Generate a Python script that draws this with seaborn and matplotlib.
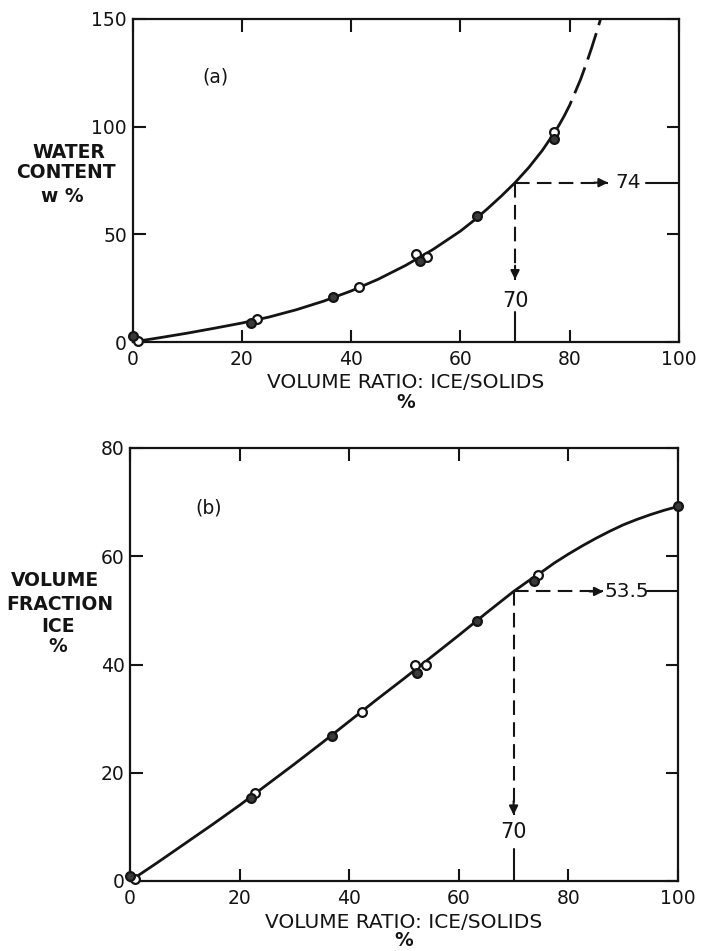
import matplotlib
matplotlib.use("Agg")
import matplotlib.pyplot as plt
import seaborn as sns

# (a) water content w % against volume ratio ice/solids %
ratio_open_a = [1, 22.8, 41.5, 51.9, 53.9, 77.1]
water_open_a = [0.5, 10.5, 25.7, 40.7, 39.3, 97.4]
ratio_fill_a = [0, 21.6, 36.7, 52.6, 63.1, 77.1]
water_fill_a = [3.0, 8.7, 20.8, 37.6, 58.5, 94.3]

curve_ratio_a = [0, 5, 10, 15, 20, 25, 30, 35, 40, 45, 50, 55, 60, 62.5, 65, 67.5,
                 70, 72.5, 75, 77, 78]
curve_water_a = [0, 2.0, 4.1, 6.4, 8.8, 11.6, 15.0, 19.0, 23.7, 29.2, 35.6, 43.0, 51.5, 56.5,
                 62.0, 67.8, 74.0, 81.0, 89.0, 96.5, 100.5]
dash_ratio_a = [78, 79, 80, 81, 82, 83, 84, 85, 86]
dash_water_a = [100.5, 105, 110, 116, 122, 129, 136.5, 144.5, 153]

# (b) volume fraction ice % against volume ratio ice/solids %
ratio_open_b = [1, 22.8, 42.3, 52.0, 54.1, 74.5]
ice_open_b = [0.3, 16.3, 31.3, 40.0, 39.9, 56.5]
ratio_fill_b = [0, 22.0, 36.9, 52.4, 63.3, 73.7, 100]
ice_fill_b = [1.0, 15.4, 26.8, 38.4, 48.0, 55.4, 69.3]

curve_ratio_b = [0, 5, 10, 15, 20, 25, 30, 35, 40, 45, 50, 55, 60, 65, 70, 72.5, 75,
                 77.5, 80, 82.5, 85, 87.5, 90, 92.5, 95, 97.5, 100]
curve_ice_b = [0, 3.4, 6.9, 10.4, 14.0, 17.8, 21.6, 25.5, 29.5, 33.5, 37.4, 41.4, 45.4, 49.5,
               53.5, 55.3, 57.0, 58.8, 60.4, 61.9, 63.3, 64.6, 65.8, 66.8, 67.7, 68.5, 69.2]

# read-off values
read_ratio = 70
read_water = 74
read_ice = 53.5

sns.set_style("ticks")
plt.rcParams["font.family"] = ["DejaVu Sans"]
ink = "#141414"
W, H = 703, 951

fig = plt.figure(figsize=(W / 100, H / 100), dpi=100)
ax1 = fig.add_axes([132.5 / W, 1 - 342 / H, 546.5 / W, 323 / H])
ax2 = fig.add_axes([130 / W, 1 - 881 / H, 548 / W, 433 / H])


def style_axes(ax, yticks, pct_y):
    ax.set_xlim(0, 100)
    ax.set_ylim(yticks[0], yticks[-1])
    ax.set_xticks([0, 20, 40, 60, 80, 100])
    ax.set_yticks(yticks)
    ax.tick_params(direction="in", length=9, width=1.5, color=ink,
                   top=True, right=True, labelsize=13.5, labelcolor=ink)
    ax.tick_params(axis="x", pad=6)
    ax.tick_params(axis="y", pad=4)
    for s in ax.spines.values():
        s.set_linewidth(1.6)
        s.set_color(ink)
    ax.set_xlabel("VOLUME RATIO: ICE/SOLIDS", fontsize=14.5, color=ink, labelpad=3)
    fig.text(ax.get_position().x0 + ax.get_position().width / 2, 1 - pct_y / H, "%",
             ha="center", va="center", fontsize=13.5, fontweight="bold", color=ink)


def points(ax, xo, yo, xf, yf):
    sns.scatterplot(x=xo, y=yo, ax=ax, marker="o", s=40, color="white",
                    edgecolor=ink, linewidth=1.6, clip_on=False, zorder=4)
    sns.scatterplot(x=xf, y=yf, ax=ax, marker="o", s=40, color="#3a3a3a",
                    edgecolor=ink, linewidth=1.6, clip_on=False, zorder=4)


def read_off(ax, yval, tip_y, lab_y, stem_y, tip_x, lab_x, stem_x, label):
    dash = (0, (7, 3.5))
    ax.plot([read_ratio, read_ratio], [yval, tip_y], color=ink, lw=1.5, ls=dash)
    ax.annotate("", xy=(read_ratio, tip_y), xytext=(0, 10), textcoords="offset points",
                arrowprops=dict(arrowstyle="-|>", color=ink, lw=1.5, mutation_scale=13,
                                shrinkA=0, shrinkB=0))
    ax.text(read_ratio, lab_y, "70", ha="center", va="center", fontsize=15, color=ink)
    ax.plot([read_ratio, read_ratio], [stem_y, ax.get_ylim()[0]], color=ink, lw=1.5)
    ax.plot([read_ratio, tip_x], [yval, yval], color=ink, lw=1.5, ls=dash)
    ax.annotate("", xy=(tip_x, yval), xytext=(-10, 0), textcoords="offset points",
                arrowprops=dict(arrowstyle="-|>", color=ink, lw=1.5, mutation_scale=13,
                                shrinkA=0, shrinkB=0))
    ax.text(lab_x, yval, label, ha="left", va="center", fontsize=14.5, color=ink)
    ax.plot([stem_x, 100], [yval, yval], color=ink, lw=1.5)


# panel (a)
style_axes(ax1, [0, 50, 100, 150], 403)
sns.lineplot(x=curve_ratio_a, y=curve_water_a, ax=ax1, color=ink, lw=2, sort=False, estimator=None)
sns.lineplot(x=dash_ratio_a, y=dash_water_a, ax=ax1, color=ink, lw=2, sort=False, estimator=None,
             linestyle=(0, (10, 3)))
points(ax1, ratio_open_a, water_open_a, ratio_fill_a, water_fill_a)
read_off(ax1, read_water, 29, 19, 14, 87, 88.3, 94, "74")
ax1.text(15.1, 123, "(a)", ha="center", va="center", fontsize=13.5, color=ink)

# panel (b)
style_axes(ax2, [0, 20, 40, 60, 80], 940)
sns.lineplot(x=curve_ratio_b, y=curve_ice_b, ax=ax2, color=ink, lw=2, sort=False, estimator=None)
points(ax2, ratio_open_b, ice_open_b, ratio_fill_b, ice_fill_b)
read_off(ax2, read_ice, 12.2, 9, 6, 86.4, 86.6, 94.3, "53.5")
ax2.text(14.3, 69, "(b)", ha="center", va="center", fontsize=13.5, color=ink)

# left-hand axis captions
for txt, x, y in [("WATER", 69, 152), ("CONTENT", 66, 172), ("w %", 62, 197)]:
    fig.text(x / W, 1 - y / H, txt, ha="center", va="center", fontsize=13.5,
             fontweight="bold", color=ink)
for txt, x, y in [("VOLUME", 55, 581), ("FRACTION", 60, 604), ("ICE", 58, 626), ("%", 58, 647)]:
    fig.text(x / W, 1 - y / H, txt, ha="center", va="center", fontsize=13.5,
             fontweight="bold", color=ink)

fig.savefig("out.png", dpi=100, facecolor="white")
